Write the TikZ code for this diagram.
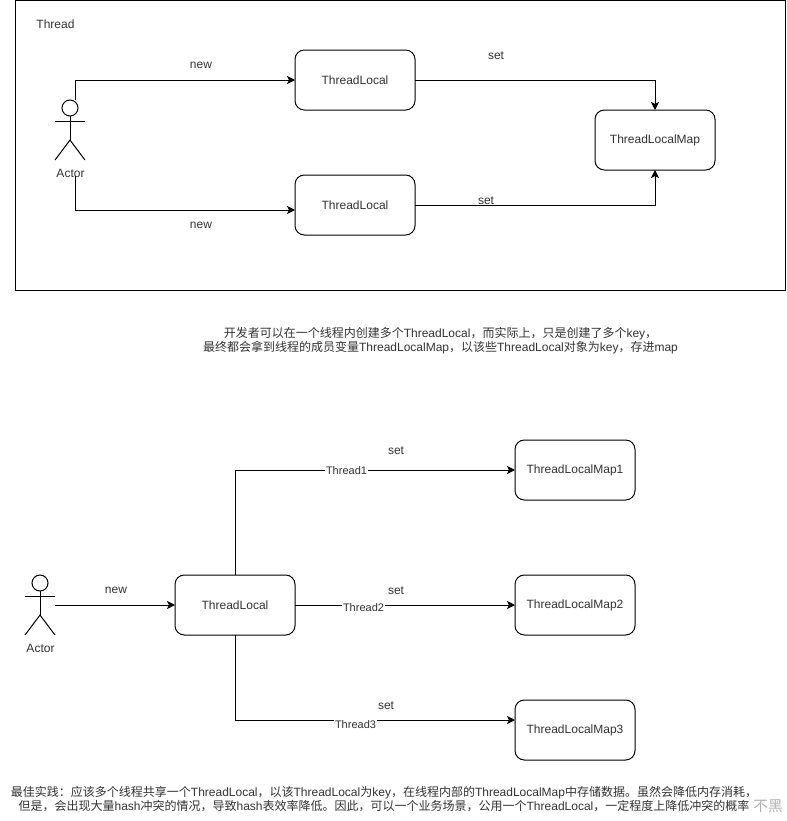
\documentclass[tikz,border=0pt]{standalone}
\usepackage{fontspec}
\setmainfont{Liberation Sans}
\newfontfamily\cjk{Noto Sans CJK SC}
\newcommand{\zh}[1]{{\cjk #1}}
\usetikzlibrary{arrows.meta,positioning}

% stick figure, #1 = name, #2 = x of the body, #3 = y of the head
\newcommand{\stickman}[3]{
            \node[actor head] (#1 head) at (#2,#3) {};
            \coordinate (#1 hip) at (#2,#3+32);
            \coordinate (#1 left) at (#2-15,#3+52);
            \coordinate (#1 right) at (#2+15,#3+52);
            \coordinate (#1 armleft) at (#2-15,#3+13);
            \coordinate (#1 armright) at (#2+15,#3+13);
            \draw[line] (#1 head) -- (#1 hip);
            \draw[line] (#1 armleft) -- (#1 armright);
            \draw[line] (#1 left) -- (#1 hip) -- (#1 right);
            \node[label text] (#1) at (#2+.5,#3+65.5) {Actor};
}

\begin{document}
\begin{tikzpicture}
            [x=.75pt,y=-.75pt,>={Stealth[length=6pt,width=6pt,inset=1.5pt]},
            line/.style={line width=.75pt,black},
            link/.style={line width=.75pt,black,->},
            label text/.style={font=\fontsize{9}{11}\selectfont,text=black!80,inner sep=0pt},
            edge text/.style={font=\fontsize{8.25}{10}\selectfont,text=black!80,fill=white,inner sep=1pt},
            box/.style={draw=black,line width=.75pt,rounded corners=7pt,minimum width=90pt,minimum height=45pt,outer sep=0pt,fill=white,font=\fontsize{9}{11}\selectfont,text=black!80},
            actor head/.style={draw=black,line width=.75pt,circle,minimum size=12pt,inner sep=0pt,outer sep=0pt}]
            \useasboundingbox (0,0) rectangle (786,821);
            % upper picture
            \node[draw=black,line width=.75pt,minimum width=577.5pt,minimum height=217.5pt,outer sep=0pt] (thread) at (400,145) {};
            \node[label text] (threadname) at (55.5,24.5) {Thread};
            \stickman{actor}{70}{108}
            \node[box] (local1) at (355,80) {ThreadLocal};
            \node[box] (local2) at (355,205) {ThreadLocal};
            \node[box] (map) at (655,140) {ThreadLocalMap};
            \coordinate (actortop) at (75,100);
            \coordinate (actorbottom) at (75,176);
            \coordinate (local2in) at (295,210);
            \draw[link] (actortop) |- (local1);
            \draw[link] (actorbottom) |- (local2in);
            \draw[link] (local1) -| (map);
            \draw[link] (local2) -| (map);
            \node[label text] (new1) at (201,65.5) {new};
            \node[label text] (new2) at (201,225.5) {new};
            \node[label text] (set1) at (496,55.5) {set};
            \node[label text] (set2) at (486,200.5) {set};
            % text between the pictures
            \node[label text,align=center] (note1) at (440.5,340.5) {\zh{开发者可以在一个线程内创建多个}ThreadLocal\zh{，而实际上，只是创建了多个}key\zh{，}\\\zh{最终都会拿到线程的成员变量}ThreadLocalMap\zh{，以该些}ThreadLocal\zh{对象为}key\zh{，存进}map};
            % lower picture
            \stickman{user}{40}{583}
            \node[box] (shared) at (235,605) {ThreadLocal};
            \node[box] (map1) at (575,470) {ThreadLocalMap1};
            \node[box] (map2) at (575,605) {ThreadLocalMap2};
            \node[box] (map3) at (575,730) {ThreadLocalMap3};
            \coordinate (userhand) at (55,605);
            \coordinate (map3in) at (515,720);
            \draw[link] (userhand) -- (shared);
            \draw[link] (shared) |- (map1);
            \draw[link] (shared) -- (map2);
            \draw[link] (shared) |- (map3in);
            \node[edge text] (thread1) at (346.5,471) {Thread1};
            \node[edge text] (thread2) at (363.5,607.5) {Thread2};
            \node[edge text] (thread3) at (355.5,725) {Thread3};
            \node[label text] (new3) at (116,590.5) {new};
            \node[label text] (set3) at (396,450.5) {set};
            \node[label text] (set4) at (396,590.5) {set};
            \node[label text] (set5) at (386,705.5) {set};
            % text at the bottom
            \node[label text,align=center] (note2) at (384,799) {\zh{最佳实践：应该多个线程共享一个}ThreadLocal\zh{，以该}ThreadLocal\zh{为}key\zh{，在线程内部的}ThreadLocalMap\zh{中存储数据。虽然会降低内存消耗，}\\[-.5pt]\zh{但是，会出现大量}hash\zh{冲突的情况，导致}hash\zh{表效率降低。因此，可以一个业务场景，公用一个}ThreadLocal\zh{，一定程度上降低冲突的概率}};
            \node[label text,font=\fontsize{11}{13}\selectfont,text=black!30] (mark) at (768,806) {\zh{不黑}};
\end{tikzpicture}
\end{document}
